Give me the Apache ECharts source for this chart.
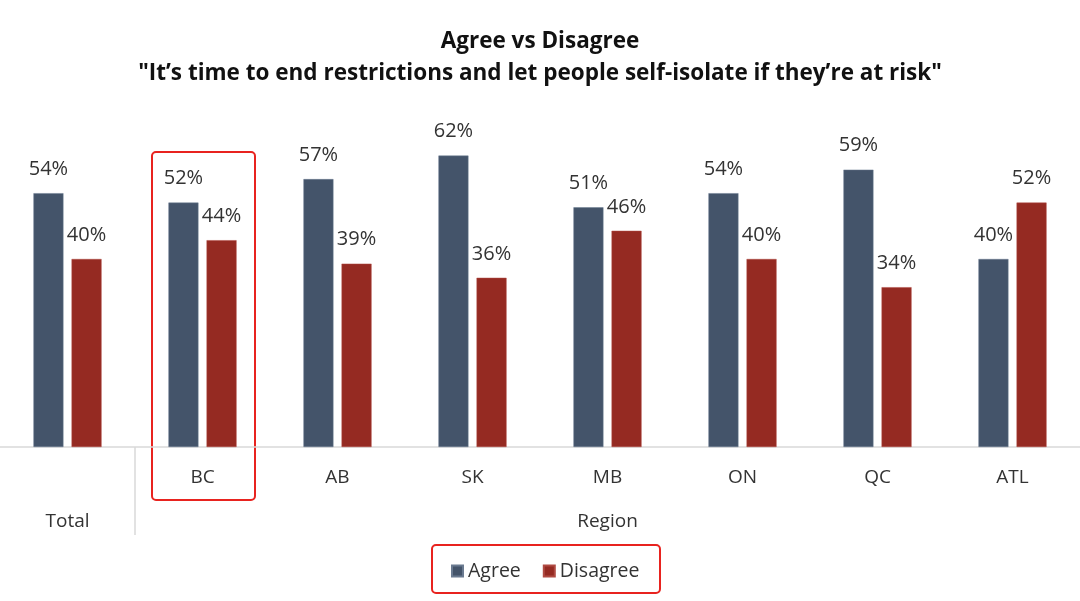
<!DOCTYPE html>
<html><head><meta charset="utf-8">
<script src="https://cdn.jsdelivr.net/npm/echarts@6/dist/echarts.min.js"></script>
<style>html,body{margin:0;padding:0;background:#fff}#c{width:1080px;height:601px}</style>
</head><body><div id="c"></div>
<script>
const categories = ['Total','BC','AB','SK','MB','ON','QC','ATL'];
const groupLabels = ['Total','','','','Region','','',''];
const agree = [54,52,57,62,51,54,59,40];
const disagree = [40,44,39,36,46,40,34,52];
const seriesNames = ['Agree','Disagree'];

const chart = echarts.init(document.getElementById('c'));
const font = '"Open Sans", "Noto Sans", sans-serif';
chart.setOption({
  animation:false,
  title:{
    text:'Agree vs Disagree\n"It’s time to end restrictions and let people self-isolate if they’re at risk"',
    left:'center', top:21,
    textStyle:{fontFamily:font,fontSize:22.5,fontWeight:'bold',color:'#111',lineHeight:32}
  },
  legend:{
    data:seriesNames, bottom:15, left:446, itemWidth:11, itemHeight:11, itemGap:22,
    icon:'rect',
    textStyle:{fontFamily:font,fontSize:19.5,color:'#333'}
  },
  grid:{left:0,right:0,top:118,bottom:154,containLabel:false},
  xAxis:[{
    type:'category', data:categories,
    axisLine:{lineStyle:{color:'#d9d9d9',width:1.5}},
    axisTick:{show:false},
    axisLabel:{formatter:function(v){return v==='Total'?'':v;},margin:21,fontFamily:font,fontSize:19,color:'#333'}
  },{
    type:'category', data:groupLabels, position:'bottom', offset:0,
    axisLine:{show:false}, axisTick:{show:false},
    axisLabel:{interval:0,margin:65,fontFamily:font,fontSize:19,color:'#333'}
  },{
    type:'value', min:0, max:categories.length, position:'bottom',
    axisLine:{show:false}, axisLabel:{show:false}, splitLine:{show:false},
    axisTick:{show:true,length:88,customValues:[1],lineStyle:{color:'#d9d9d9',width:1.5}}
  }],
  yAxis:{type:'value',min:0,max:70,show:false,splitLine:{show:false}},
  series:[{
    name:seriesNames[0], type:'bar', data:agree, barWidth:30, barGap:'27%',
    itemStyle:{color:'#44546a',borderColor:'#6a7a90',borderWidth:0.5},
    label:{show:true,position:'top',distance:14,formatter:'{c}%',fontFamily:font,fontSize:20,color:'#333'}
  },{
    name:seriesNames[1], type:'bar', data:disagree, barWidth:30,
    itemStyle:{color:'#952a22',borderColor:'#b04a42',borderWidth:0.5},
    label:{show:true,position:'top',distance:14,formatter:'{c}%',fontFamily:font,fontSize:20,color:'#333'}
  }],
  graphic:[
    {type:'rect',shape:{x:152,y:152,width:103,height:348,r:4},style:{fill:'none',stroke:'#e8231f',lineWidth:2}},
    {type:'rect',shape:{x:432,y:545,width:228,height:48,r:4},style:{fill:'none',stroke:'#e8231f',lineWidth:2}}
  ]
});
</script></body></html>
